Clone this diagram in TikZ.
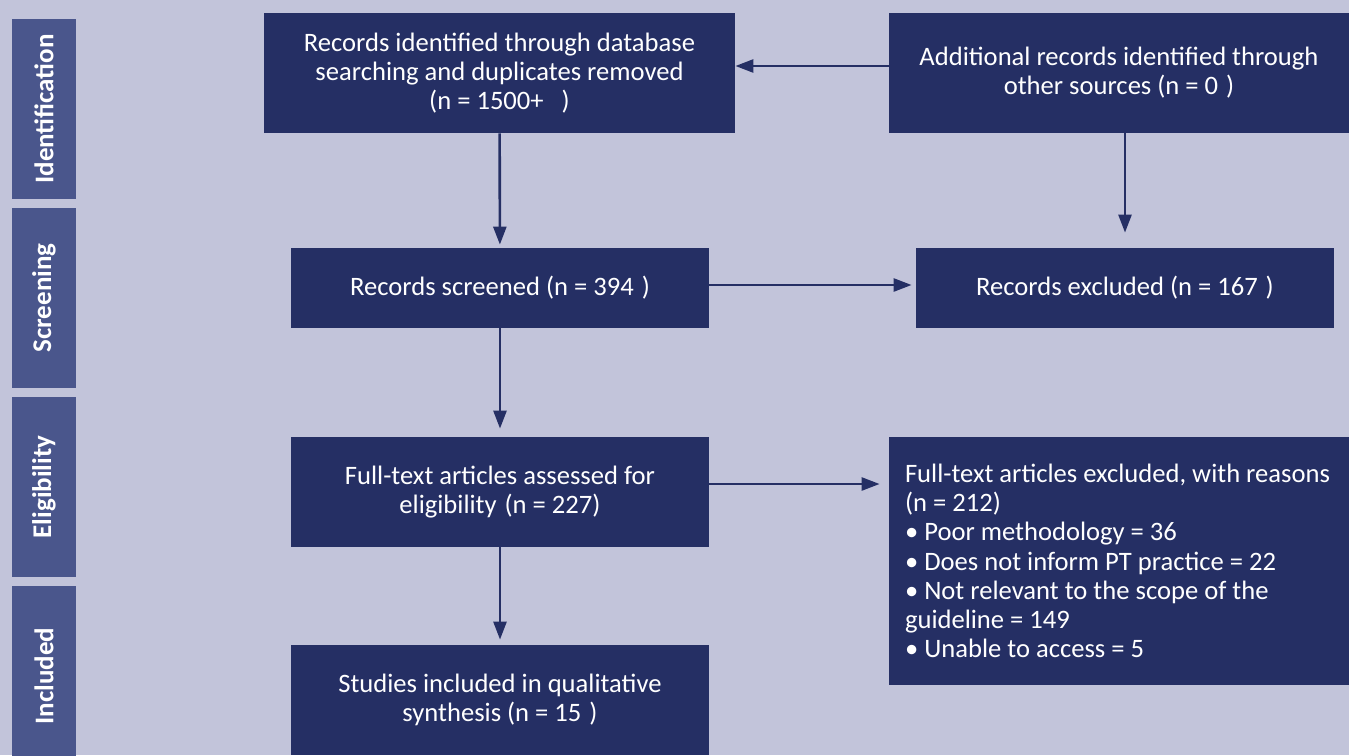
\documentclass[tikz,border=0pt]{standalone}
\usepackage{fontspec}
\setmainfont{Carlito}
\usetikzlibrary{arrows.meta}

\definecolor{navy}{HTML}{252F64}
\definecolor{sidebar}{HTML}{4A568C}
\definecolor{backdrop}{HTML}{C2C4DA}

\begin{document}
\begin{tikzpicture}[x=0.5pt,y=-0.5pt,
  box/.style={fill=navy,text=white,font=\fontsize{13.3}{14.6}\selectfont,align=center,inner sep=0pt},
  phase/.style={fill=sidebar,text=white,font=\fontsize{13.5}{14}\selectfont\bfseries,rotate=90,minimum width=90pt,minimum height=32pt,inner sep=0pt},
  flow/.style={draw=navy,line width=1.3pt,-{Triangle[length=9pt,width=6.5pt]}}]
\fill[backdrop] (0,0) rectangle (1349,755);
\clip (0,0) rectangle (1349,755);
% phases on the left
\node[phase] (ident) at (44,109) {Identification};
\node[phase] (screen) at (44,298) {Screening};
\node[phase] (elig) at (44,487) {Eligibility};
\node[phase] (incl) at (44,676) {Included};
% flow boxes
\node[box,minimum width=235.5pt,minimum height=60pt] (found) at (499.5,73) {Records identified through database\\searching and duplicates removed\\(n = 1500+\hspace{9pt})};
\node[box,minimum width=230pt,minimum height=60pt] (other) at (1119,73) {Additional records identified through\\other sources (n = 0\hspace{4pt})};
\node[box,minimum width=209pt,minimum height=40pt] (screened) at (500,288) {Records screened (n = 394\hspace{4pt})};
\node[box,minimum width=209pt,minimum height=40pt] (excluded) at (1125,288) {Records excluded (n = 167\hspace{4pt})};
\node[box,minimum width=209pt,minimum height=55pt] (fulltext) at (500,492) {Full-text articles assessed for\\eligibility\hspace{4pt}(n = 227)};
\node[box,minimum width=230pt,minimum height=124pt,align=flush left,text width=214pt,inner xsep=8pt] (reasons) at (1119,561) {Full-text articles excluded, with reasons\\(n = 212)\\• Poor methodology = 36\\• Does not inform PT practice = 22\\• Not relevant to the scope of the\\guideline = 149\\• Unable to access = 5};
\node[box,minimum width=209pt,minimum height=55pt] (included) at (500,700) {Studies included in qualitative\\synthesis (n = 15\hspace{4pt})};
% arrows
\draw[flow] ([yshift=3.5pt]other.west) -- ([yshift=3.5pt]other.west -| found.east);
\draw[flow,shorten >=1.5pt] (found) -- (screened);
\draw[flow,shorten >=7.5pt] (other.south -| excluded) -- (excluded.north);
\draw[flow,shorten >=2pt] ([yshift=1.5pt]screened.east) -- ([yshift=1.5pt]screened.east -| excluded.west);
\draw[flow,shorten >=4pt] (screened) -- (fulltext);
\draw[flow,shorten >=4.5pt] ([yshift=4pt]fulltext.east) -- ([yshift=4pt]fulltext.east -| reasons.west);
\draw[flow,shorten >=2.5pt] (fulltext) -- (included);
\end{tikzpicture}
\end{document}
